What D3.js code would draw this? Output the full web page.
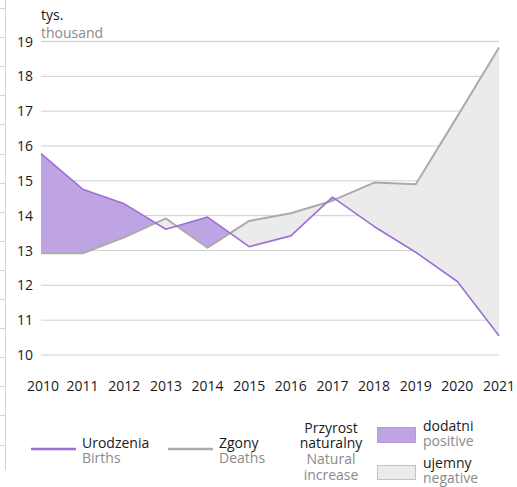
<!DOCTYPE html>
<html lang="pl">

<head>
  <meta charset="UTF-8">
  <title>Urodzenia i zgony</title>
  <style>
    body { margin: 0; background: #fff; }
    text { font-family: "Open Sans", sans-serif; }
  </style>
</head>

<body>
  <svg width="517" height="487"></svg>
  <script src="https://cdn.jsdelivr.net/npm/d3@7/dist/d3.min.js"></script>
  <script>
    // dane (tys.)
    var years = [2010, 2011, 2012, 2013, 2014, 2015, 2016, 2017, 2018, 2019, 2020, 2021]
    var births = [15.78, 14.76, 14.34, 13.61, 13.96, 13.11, 13.42, 14.53, 13.69, 12.95, 12.11, 10.55]
    var deaths = [12.92, 12.92, 13.38, 13.92, 13.08, 13.85, 14.07, 14.43, 14.95, 14.90, 16.85, 18.83]
    var yTicks = [10, 11, 12, 13, 14, 15, 16, 17, 18, 19]

    var svg = d3.select("svg")
    var purple = "#9b6fd6", purpleFill = "#bfa4e4"
    var grey = "#ababab", greyFill = "#ebebeb"

    var data = years.map(function (y, i) {
      return { year: y, b: births[i], d: deaths[i] }
    })

    var x = d3.scaleLinear().domain([2010, 2021]).range([41, 499])
    var y = d3.scaleLinear().domain([10, 19]).range([355, 41.5])

    // ramka po lewej (resztka sąsiedniego elementu)
    svg.append("line")
      .attr("x1", 5.5).attr("x2", 5.5).attr("y1", 0).attr("y2", 470)
      .attr("stroke", "#d4d4d4").attr("stroke-width", 1)
    svg.append("g").selectAll("line")
      .data(d3.range(8, 460, 29.1))
      .enter().append("line")
      .attr("x1", 0).attr("x2", 5).attr("y1", function (d) { return Math.round(d) + 0.5 })
      .attr("y2", function (d) { return Math.round(d) + 0.5 })
      .attr("stroke", "#d4d4d4")

    // siatka
    svg.append("g").selectAll("line")
      .data(yTicks)
      .enter().append("line")
      .attr("x1", x(2010)).attr("x2", x(2021))
      .attr("y1", function (d) { return y(d) }).attr("y2", function (d) { return y(d) })
      .attr("stroke", function (d) { return d == 19 ? "#d6d6d6" : "#cfcfcf" })
      .attr("stroke-width", function (d) { return d == 19 ? 1.6 : 1 })

    // etykiety osi Y
    svg.append("g").selectAll("text")
      .data(yTicks)
      .enter().append("text")
      .attr("x", 33).attr("y", function (d) { return y(d) })
      .attr("dy", "0.36em")
      .attr("text-anchor", "end")
      .attr("font-size", 14).attr("fill", "#1a1a1a")
      .text(function (d) { return d })

    // etykiety osi X
    svg.append("g").selectAll("text")
      .data(years)
      .enter().append("text")
      .attr("x", function (d) { return d == 2010 ? x(d) + 2 : x(d) })
      .attr("y", 391)
      .attr("text-anchor", "middle")
      .attr("font-size", 14).attr("fill", "#1a1a1a")
      .text(function (d) { return d })

    svg.append("text").attr("x", 41).attr("y", 20).attr("font-size", 14).attr("fill", "#1a1a1a").text("tys.")
    svg.append("text").attr("x", 41).attr("y", 38).attr("font-size", 14).attr("fill", "#8a8a8a").text("thousand")

    // przyrost: obszar między liniami
    var between = d3.area()
      .x(function (d) { return x(d.year) })
      .y0(function (d) { return y(d.d) })
      .y1(function (d) { return y(d.b) })
    var defs = svg.append("defs")
    defs.append("clipPath").attr("id", "above")
      .append("path").datum(data)
      .attr("d", d3.area().x(function (d) { return x(d.year) }).y0(0).y1(function (d) { return y(d.d) }))
    defs.append("clipPath").attr("id", "below")
      .append("path").datum(data)
      .attr("d", d3.area().x(function (d) { return x(d.year) }).y0(487).y1(function (d) { return y(d.d) }))

    svg.append("path").datum(data)
      .attr("clip-path", "url(#above)")
      .attr("fill", purpleFill).attr("d", between)
    svg.append("path").datum(data)
      .attr("clip-path", "url(#below)")
      .attr("fill", greyFill).attr("d", between)

    // linie
    var lineD = d3.line().x(function (d) { return x(d.year) }).y(function (d) { return y(d.d) })
    var lineB = d3.line().x(function (d) { return x(d.year) }).y(function (d) { return y(d.b) })
    svg.append("path").datum(data).attr("d", lineD)
      .attr("fill", "none").attr("stroke", grey).attr("stroke-width", 2).attr("stroke-linejoin", "round")
    svg.append("path").datum(data).attr("d", lineB)
      .attr("fill", "none").attr("stroke", purple).attr("stroke-width", 1.6).attr("stroke-linejoin", "round")

    // legenda
    var lg = svg.append("g")
    function twoLines(g, x0, y0, pl, en, anchor) {
      var t = g.append("text").attr("font-size", 14).attr("text-anchor", anchor || "start")
      t.append("tspan").attr("x", x0).attr("y", y0).attr("fill", "#1a1a1a").text(pl)
      t.append("tspan").attr("x", x0).attr("y", y0 + 15).attr("fill", "#8a8a8a").text(en)
    }
    lg.append("line").attr("x1", 31).attr("x2", 76).attr("y1", 449).attr("y2", 449)
      .attr("stroke", purple).attr("stroke-width", 2.5)
    twoLines(lg, 82, 448, "Urodzenia", "Births")
    lg.append("line").attr("x1", 168).attr("x2", 213).attr("y1", 449).attr("y2", 449)
      .attr("stroke", grey).attr("stroke-width", 2.5)
    twoLines(lg, 219, 448, "Zgony", "Deaths")

    var t = lg.append("text").attr("font-size", 14).attr("text-anchor", "middle")
    t.append("tspan").attr("x", 331).attr("y", 433).attr("fill", "#1a1a1a").text("Przyrost")
    t.append("tspan").attr("x", 331).attr("y", 448).attr("fill", "#1a1a1a").text("naturalny")
    t.append("tspan").attr("x", 331).attr("y", 464).attr("fill", "#8a8a8a").text("Natural")
    t.append("tspan").attr("x", 331).attr("y", 480).attr("fill", "#8a8a8a").text("increase")

    lg.append("rect").attr("x", 377.5).attr("y", 427.5).attr("width", 38).attr("height", 15)
      .attr("fill", purpleFill).attr("stroke", "#b49ad9")
    twoLines(lg, 423, 431, "dodatni", "positive")
    lg.append("rect").attr("x", 377.5).attr("y", 465.5).attr("width", 38).attr("height", 14)
      .attr("fill", greyFill).attr("stroke", "#c2c2c2")
    twoLines(lg, 423, 468, "ujemny", "negative")
  </script>
</body>

</html>
